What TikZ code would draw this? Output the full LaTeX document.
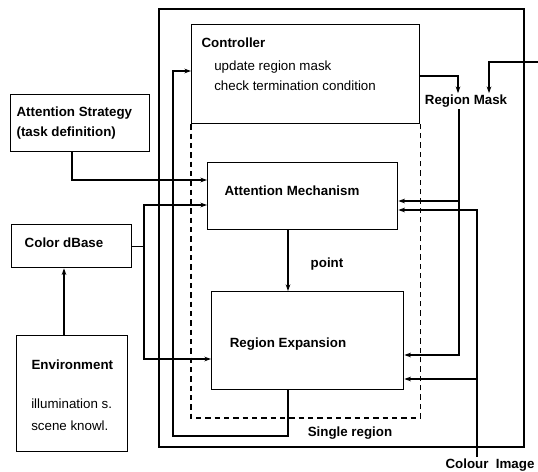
\documentclass[tikz,border=0pt]{standalone}
\usepackage{fontspec}
\setmainfont{Liberation Sans}
\usetikzlibrary{arrows.meta,calc}
\begin{document}
\begin{tikzpicture}[x=0.75pt,y=-0.75pt,
 box/.style={draw,line width=1pt,inner sep=0pt,anchor=north west},
 lbl/.style={font=\bfseries\fontsize{10}{15}\selectfont,inner sep=1pt},
 txt/.style={font=\fontsize{10}{12}\selectfont,inner sep=0pt,anchor=west},
 conn/.style={line width=0.9pt},
 arr/.style={conn,-{Stealth[length=5pt,width=3.5pt]}},
]
\useasboundingbox (0,0) rectangle (538,471);
% boxes
\node[box,line width=1.2pt,minimum width=273.75pt,minimum height=328.5pt] (outer) at (158,8) {};
\node[box,minimum width=171pt,minimum height=74.25pt] (ctrl) at (191,24) {};
\node[box,minimum width=142.5pt,minimum height=50.25pt] (am) at (207,162) {};
\node[box,minimum width=144pt,minimum height=73.5pt] (re) at (211,291) {};
\node[box,minimum width=104.25pt,minimum height=42.75pt] (as) at (10,94) {};
\node[box,minimum width=90pt,minimum height=32.25pt] (cdb) at (11,224) {};
\node[box,minimum width=83.25pt,minimum height=87pt] (env) at (16,335) {};
% dashed single region
\draw[line width=0.9pt,dash pattern=on 4pt off 3pt] (ctrl.south west) -- (ctrl.south west |- 0,418) -- (ctrl.south east |- 0,418) -- (ctrl.south east);
% texts
\node[lbl,anchor=west] (ctrlT) at (200,43) {Controller};
\node[txt] (ctrl1) at (214,67) {update region mask};
\node[txt] (ctrl2) at (214,86) {check termination condition};
\node[lbl] (amT) at (292,191) {Attention Mechanism};
\node[lbl] (reT) at (288,344) {Region Expansion};
\node[lbl,anchor=west,align=left] (asT) at (15,123) {Attention Strategy\\(task definition)};
\node[lbl] (cdbT) at (64,243) {Color dBase};
\node[lbl,anchor=west] (envT) at (30,365) {Environment};
\node[txt] (env1) at (31,404) {illumination s.};
\node[txt] (env2) at (31,426) {scene knowl.};
\node[lbl] (rm) at (466,101) {Region Mask};
\node[lbl] (ci) at (490,465) {Colour\ \ Image};
\node[lbl] (pt) at (327,264) {point};
\node[lbl] (sr) at (350,433) {Single region};
\coordinate (rmin) at (538,62);
% connectors
\draw[arr] (ctrl.east |- 0,76) -| (rm.north -| 458,0);
\draw[arr] (rmin) -| (rm.north -| 489,0);
\draw[arr] (rm.south -| 459,0) |- (re.east |- 0,355);
\draw[arr] (459,201) -- (am.east |- 0,201);
\draw[arr] (ci.north -| 477,0) |- (am.east |- 0,210);
\draw[arr] (477,379) -- (re.east |- 0,379);
\draw[arr] (re.south -| 288,0) -- (288,436) -- (173,436) -- (173,71) -- (ctrl.west |- 0,71);
\draw[arr] (am.south -| 288,0) -- (re.north -| 288,0);
\draw[arr] (as.south -| 72,0) |- (am.west |- 0,180);
\draw[conn] (cdb.east) -- (cdb.east -| 144,0);
\draw[arr] (144,243) |- (am.west |- 0,205);
\draw[arr] (144,243) |- (re.west |- 0,359);
\draw[arr] (env.north -| 64,0) -- (cdb.south -| 64,0);
\end{tikzpicture}
\end{document}
